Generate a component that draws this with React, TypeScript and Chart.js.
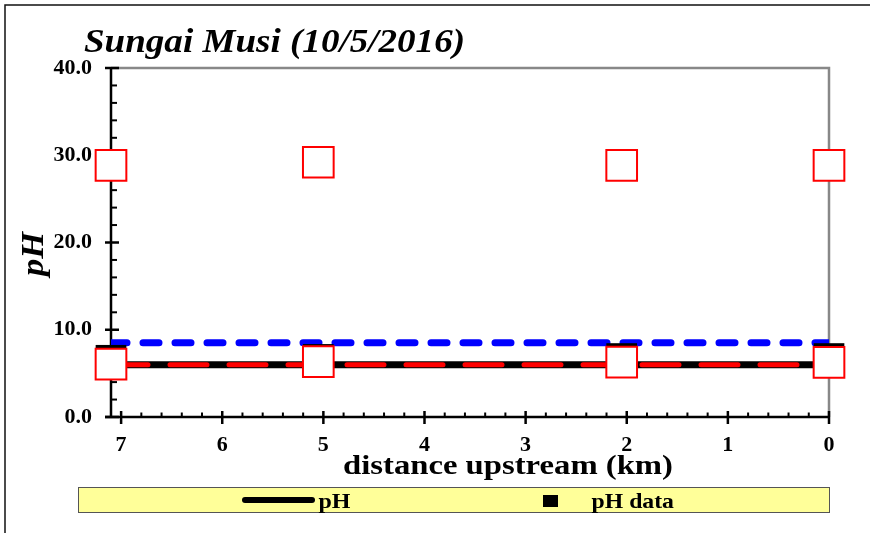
import React, { useEffect, useRef } from "react";
import { Chart, registerables } from "chart.js";

Chart.register(...registerables);

// ---------- data ----------
const distanceKm = [7.1, 5.05, 2.05, 0];
const phData = [6.5, 6.6, 6.7, 6.7];
const sampleLow = [6.05, 6.35, 6.3, 6.25];
const sampleHigh = [28.85, 29.2, 28.85, 28.85];

const lineDistance = [7.1, 0];
const phModel = [6.0, 6.0];
const lowerStandard = [6.0, 6.0];
const upperStandard = [8.5, 8.5];

const xTickValues = [7, 6, 5, 4, 3, 2, 1, 0];
const xTickLabels = ["7", "6", "5", "4", "3", "2", "1", "0"];
const yTickValues = [0, 10, 20, 30, 40];
const yTickLabels = ["0.0", "10.0", "20.0", "30.0", "40.0"];

const titleText = "Sungai Musi (10/5/2016)";
const xTitleText = "distance upstream (km)";
const yTitleText = "pH";
const legendLabels = ["pH", "pH data"];

// ---------- styling ----------
const SERIF = "'Liberation Serif', 'Times New Roman', serif";

function fittedText(
  ctx: CanvasRenderingContext2D,
  text: string,
  font: string,
  left: number,
  baseline: number,
  width: number,
  rotate = false
) {
  ctx.save();
  ctx.font = font;
  const natural = ctx.measureText(text).width;
  ctx.translate(left, baseline);
  if (rotate) ctx.rotate(-Math.PI / 2);
  ctx.scale(width / natural, 1);
  ctx.textAlign = "left";
  ctx.textBaseline = "alphabetic";
  ctx.fillStyle = "#000";
  ctx.fillText(text, 0, 0);
  ctx.restore();
}

const decorPlugin = {
  id: "decor",
  beforeDraw(chart: any) {
    const ctx = chart.ctx as CanvasRenderingContext2D;
    ctx.save();
    ctx.fillStyle = "#fff";
    ctx.fillRect(0, 0, chart.width, chart.height);
    ctx.strokeStyle = "#111";
    ctx.lineWidth = 1.5;
    ctx.beginPath();
    ctx.moveTo(5, chart.height);
    ctx.lineTo(5, 5);
    ctx.lineTo(chart.width, 5);
    ctx.stroke();
    ctx.restore();
  },
  beforeDatasetsDraw(chart: any) {
    const ctx = chart.ctx as CanvasRenderingContext2D;
    const a = chart.chartArea;
    const x = chart.scales.x;
    const y = chart.scales.y;
    ctx.save();
    ctx.lineCap = "butt";
    // gray frame top/right
    ctx.strokeStyle = "#888";
    ctx.lineWidth = 2.5;
    ctx.beginPath();
    ctx.moveTo(a.left, a.top);
    ctx.lineTo(a.right, a.top);
    ctx.lineTo(a.right, a.bottom);
    ctx.stroke();
    // black axes
    ctx.strokeStyle = "#000";
    ctx.lineWidth = 2.5;
    ctx.beginPath();
    ctx.moveTo(a.left, a.top);
    ctx.lineTo(a.left, a.bottom);
    ctx.stroke();
    ctx.beginPath();
    ctx.moveTo(a.left - 6, a.bottom);
    ctx.lineTo(a.right, a.bottom);
    ctx.stroke();
    // y ticks (major every 10, minor every 2)
    for (let i = 0; i <= 20; i++) {
      const v = i * 2;
      const py = y.getPixelForValue(v);
      const major = v % 10 === 0;
      ctx.lineWidth = major ? 2.5 : 2;
      ctx.beginPath();
      ctx.moveTo(major ? a.left - 6 : a.left, py);
      ctx.lineTo(a.left + (major ? 8 : 6), py);
      ctx.stroke();
    }
    // x ticks (major every 1, minor every 0.2)
    for (let i = 0; i <= 35; i++) {
      const v = i / 5;
      const px = x.getPixelForValue(v);
      const major = i % 5 === 0;
      ctx.lineWidth = major ? 2.5 : 2;
      ctx.beginPath();
      ctx.moveTo(px, a.bottom - (major ? 6 : 4.5));
      ctx.lineTo(px, a.bottom + (major ? 7 : 0));
      ctx.stroke();
    }
    ctx.restore();
  },
  afterDraw(chart: any) {
    const ctx = chart.ctx as CanvasRenderingContext2D;
    // title and axis titles
    fittedText(ctx, titleText, `italic bold 34px ${SERIF}`, 84, 52, 381);
    fittedText(ctx, xTitleText, `bold 28px ${SERIF}`, 343, 474, 330);
    fittedText(ctx, yTitleText, `italic bold 31px ${SERIF}`, 43, 276, 44, true);

    // legend
    ctx.save();
    ctx.fillStyle = "#FFFF99";
    ctx.fillRect(78.5, 487.5, 751, 25);
    ctx.strokeStyle = "#555";
    ctx.lineWidth = 1;
    ctx.strokeRect(78.5, 487.5, 751, 25);
    ctx.strokeStyle = "#000";
    ctx.lineWidth = 6;
    ctx.lineCap = "round";
    ctx.beginPath();
    ctx.moveTo(245, 500);
    ctx.lineTo(312, 500);
    ctx.stroke();
    ctx.fillStyle = "#000";
    ctx.fillRect(543, 495, 15, 12);
    ctx.restore();
    fittedText(ctx, legendLabels[0], `bold 21px ${SERIF}`, 318.5, 508, 32);
    fittedText(ctx, legendLabels[1], `bold 21px ${SERIF}`, 591.5, 508, 82.5);
  },
};

const pts = (xs: number[], ys: number[]) => xs.map((v, i) => ({ x: v, y: ys[i] }));

export default function App() {
  const ref = useRef<HTMLCanvasElement>(null);

  useEffect(() => {
    document.body.style.margin = "0";
    const markerRadius = 21.7;
    const chart = new Chart(ref.current as HTMLCanvasElement, {
      type: "line",
      data: {
        datasets: [
          {
            label: "samples (high)",
            data: pts(distanceKm, sampleHigh),
            showLine: false,
            pointStyle: "rect",
            pointRadius: markerRadius,
            backgroundColor: "#fff",
            borderColor: "#ff0000",
            pointBorderWidth: 2,
            clip: false,
          },
          {
            label: "samples (low)",
            data: pts(distanceKm, sampleLow),
            showLine: false,
            pointStyle: "rect",
            pointRadius: markerRadius,
            backgroundColor: "#fff",
            borderColor: "#ff0000",
            pointBorderWidth: 2,
            clip: false,
          },
          {
            label: legendLabels[1],
            data: pts(distanceKm, phData),
            showLine: false,
            pointStyle: "rect",
            pointRadius: markerRadius,
            backgroundColor: "#000",
            borderColor: "#000",
            pointBorderWidth: 0,
            clip: false,
          },
          {
            label: "upper standard",
            data: pts(lineDistance, upperStandard),
            borderColor: "#0000ff",
            borderWidth: 7,
            borderDash: [16, 16],
            borderCapStyle: "round",
            pointRadius: 0,
          },
          {
            label: "lower standard",
            data: pts(lineDistance, lowerStandard),
            borderColor: "#ff0000",
            borderWidth: 5,
            borderDash: [37, 22],
            borderCapStyle: "round",
            pointRadius: 0,
          },
          {
            label: legendLabels[0],
            data: pts(lineDistance, phModel),
            borderColor: "#000",
            borderWidth: 7,
            pointRadius: 0,
          },
        ],
      } as any,
      options: {
        responsive: false,
        animation: false,
        events: [],
        layout: { padding: { top: 68, right: 41, bottom: 0, left: 0 } },
        plugins: {
          legend: { display: false },
          title: { display: false },
          tooltip: { enabled: false },
        },
        scales: {
          x: {
            type: "linear",
            min: 0,
            max: 7.1,
            reverse: true,
            grid: { display: false, drawTicks: false },
            border: { display: false },
            afterFit: (s: any) => {
              s.height = 116;
            },
            afterBuildTicks: (s: any) => {
              s.ticks = xTickValues.map((v) => ({ value: v }));
            },
            ticks: {
              autoSkip: false,
              maxRotation: 0,
              padding: 15,
              color: "#000",
              font: { family: SERIF, size: 22, weight: "bold" },
              callback: (v: any) => xTickLabels[xTickValues.indexOf(Number(v))] ?? "",
            },
          },
          y: {
            type: "linear",
            min: 0,
            max: 40,
            grid: { display: false, drawTicks: false },
            border: { display: false },
            afterFit: (s: any) => {
              s.width = 111;
            },
            afterBuildTicks: (s: any) => {
              s.ticks = yTickValues.map((v) => ({ value: v }));
            },
            ticks: {
              autoSkip: false,
              padding: 19,
              color: "#000",
              font: { family: SERIF, size: 22, weight: "bold" },
              callback: (v: any) => yTickLabels[yTickValues.indexOf(Number(v))] ?? "",
            },
          },
        },
      } as any,
      plugins: [decorPlugin],
    });
    return () => chart.destroy();
  }, []);

  return (
    <div style={{ position: "absolute", left: 0, top: 0, width: 870, height: 533 }}>
      <canvas ref={ref} width={870} height={533} style={{ display: "block" }} />
    </div>
  );
}
